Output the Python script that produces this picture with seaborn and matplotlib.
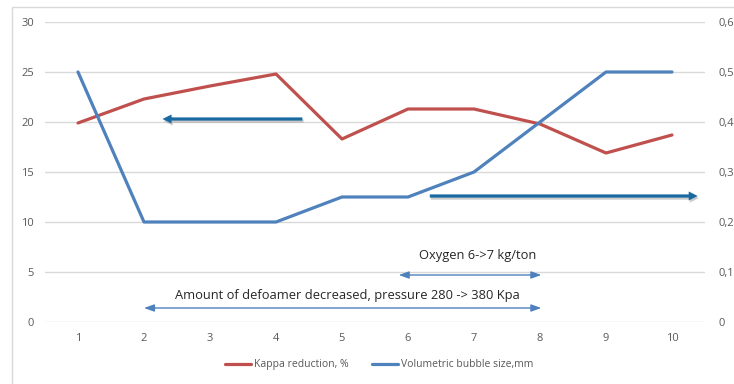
import matplotlib
matplotlib.use("Agg")
import matplotlib.pyplot as plt
import matplotlib.patheffects as pe
from matplotlib.patches import Rectangle
import seaborn as sns
import pandas as pd

# Trial number and measured series
trials = [1, 2, 3, 4, 5, 6, 7, 8, 9, 10]
kappa_reduction = [19.9, 22.3, 23.6, 24.8, 18.3, 21.3, 21.3, 19.8, 16.9, 18.7]
bubble_size = [0.5, 0.2, 0.2, 0.2, 0.25, 0.25, 0.3, 0.4, 0.5, 0.5]

left_ticks = [0, 5, 10, 15, 20, 25, 30]
right_ticks = [0, 0.1, 0.2, 0.3, 0.4, 0.5, 0.6]
right_labels = ["0", "0,1", "0,2", "0,3", "0,4", "0,5", "0,6"]

red = "#c0504d"
blue = "#4f81bd"
arrow_dark = "#1a69a0"
grid_c = "#d9d9d9"
tick_c = "#595959"

sns.set_theme(style="white")
plt.rcParams["font.family"] = ["Open Sans", "DejaVu Sans"]

df = pd.DataFrame({"trial": trials, "kappa": kappa_reduction, "bubble": bubble_size})

fig = plt.figure(figsize=(7.34, 3.84), dpi=100)
ax = fig.add_axes([45 / 734, 1 - 322 / 384, 660 / 734, 300 / 384])
ax2 = ax.twinx()

# chart frame
fig.patches.append(Rectangle((12 / 734, -0.05), 1.0, 1.05 - 7 / 384,
                             transform=fig.transFigure, fill=False,
                             edgecolor=grid_c, linewidth=1.0, zorder=0))

sns.lineplot(data=df, x="trial", y="kappa", ax=ax, color=red, linewidth=2.3,
             label="Kappa reduction, %", legend=False)
sns.lineplot(data=df, x="trial", y="bubble", ax=ax2, color=blue, linewidth=2.3,
             label="Volumetric bubble size,mm", legend=False)

ax.set_xlim(0.5, 10.5)
ax.set_ylim(0, 30)
ax2.set_ylim(0, 0.6)
ax.set_yticks(left_ticks)
ax.set_yticklabels([str(t) for t in left_ticks])
ax2.set_yticks(right_ticks)
ax2.set_yticklabels(right_labels)
ax.set_xticks(trials)
ax.set_xticklabels([str(t) for t in trials])
ax.set_xlabel("")
ax.set_ylabel("")
ax2.set_ylabel("")

for a in (ax, ax2):
    for s in a.spines.values():
        s.set_visible(False)
    a.tick_params(length=0, labelsize=8, colors=tick_c)
ax.tick_params(axis="y", pad=8)
ax2.tick_params(axis="y", pad=10)
ax.tick_params(axis="x", pad=8)

ax.grid(False)
ax2.grid(False)
for t in left_ticks:
    ax.axhline(t, color=grid_c, linewidth=1.0, zorder=0)
ax.set_axisbelow(True)

# thick pointers to each axis
shadow = [pe.SimplePatchShadow(offset=(0.8, -1.5), shadow_rgbFace="#999999", alpha=0.5),
          pe.Normal()]
big_arrow = dict(facecolor=arrow_dark, edgecolor="none", width=2.3,
                 headwidth=6.5, headlength=6.5, shrink=0, path_effects=shadow)
ax.annotate("", xy=(2.28, 20.3), xytext=(4.4, 20.3), arrowprops=big_arrow, zorder=5)
ax.annotate("", xy=(10.39, 12.6), xytext=(6.33, 12.6), arrowprops=big_arrow, zorder=5)

# process change ranges
ax.annotate("", xy=(5.86, 4.7), xytext=(8.02, 4.7),
            arrowprops=dict(arrowstyle="<|-|>,head_length=0.5,head_width=0.18",
                            color=blue, lw=1.0, shrinkA=0, shrinkB=0))
ax.annotate("", xy=(2.0, 1.4), xytext=(8.02, 1.4),
            arrowprops=dict(arrowstyle="<|-|>,head_length=0.5,head_width=0.18",
                            color=blue, lw=1.0, shrinkA=0, shrinkB=0))
ax.text(7.05, 6.6, "Oxygen 6->7 kg/ton", ha="center", va="center",
        fontsize=9.3, color="#262626")
ax.text(5.08, 2.7, "Amount of defoamer decreased, pressure 280 -> 380 Kpa",
        ha="center", va="center", fontsize=9.3, color="#262626")

handles = ax.get_lines()[:1] + ax2.get_lines()[:1]
fig.legend(handles, ["Kappa reduction, %", "Volumetric bubble size,mm"],
           loc="center", bbox_to_anchor=(379 / 734, 1 - 365 / 384), ncol=2,
           frameon=False, fontsize=7.5, labelcolor=tick_c, handlelength=2.5,
           columnspacing=2.2, handletextpad=0.3)

fig.savefig("out.png", dpi=100)
